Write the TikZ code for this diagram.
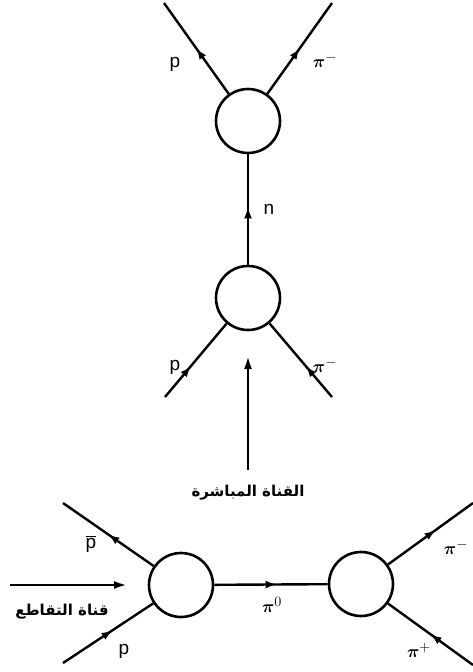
\documentclass[tikz,border=0pt]{standalone}
\usepackage{fontspec}
\setmainfont{Liberation Sans}
\newfontfamily\arabicfont[Script=Arabic]{DejaVu Sans}
\TeXXeTstate=1
\usetikzlibrary{arrows.meta,decorations.markings}
\newcommand{\pim}[1]{\ensuremath{\boldsymbol{\pi}^{#1}}}
\usepackage{amsmath}
\begin{document}
\begin{tikzpicture}[x=1pt,y=-1pt,
  blob/.style={circle,draw,line width=2.6pt,minimum size=64pt,inner sep=0pt},
  leg/.style={line width=2.4pt},
  midarrow/.style={leg,postaction={decorate},decoration={markings,
     mark=at position #1 with {\arrow{Latex[length=11pt,width=8pt]}}}},
  lbl/.style={font=\fontsize{19}{22}\selectfont,inner sep=0pt},
  arlbl/.style={font=\arabicfont\bfseries\fontsize{15}{18}\selectfont,inner sep=0pt},
  bigarrow/.style={line width=2.4pt,-{Latex[length=13pt,width=8pt]}}]
\useasboundingbox (0,0) rectangle (473,672);
% nodes
\node[blob] (c1) at (248,121) {};
\node[blob] (c2) at (248,298) {};
\node[blob] (c3) at (181,585) {};
\node[blob] (c4) at (361,584) {};
% free ends
\coordinate (t1) at (164,3);
\coordinate (t2) at (332,3);
\coordinate (m1) at (165,397);
\coordinate (m2) at (332,397);
\coordinate (b1) at (63,503);
\coordinate (b2) at (63,663);
\coordinate (r1) at (473,503);
\coordinate (r2) at (473,665);
\coordinate (va) at (248,470);
\coordinate (vb) at (248,356);
\coordinate (ha) at (10,585);
\coordinate (hb) at (127,585);
% legs
\draw[midarrow=0.5] (c1) -- (t1);
\draw[midarrow=0.5] (c1) -- (t2);
\draw[midarrow=0.52] (c2) -- (c1);
\draw[midarrow=0.42] (m1) -- (c2);
\draw[midarrow=0.42] (m2) -- (c2);
\draw[midarrow=0.5] (c3) -- (b1);
\draw[midarrow=0.55] (b2) -- (c3);
\draw[midarrow=0.55] (c3) -- (c4);
\draw[midarrow=0.56] (c4) -- (r1);
\draw[midarrow=0.5] (r2) -- (c4);
% channel arrows
\draw[bigarrow] (va) -- (vb);
\draw[bigarrow] (ha) -- (hb);
% labels
\node[lbl] (l1) at (175,64) {p};
\node[lbl] (l2) at (325,60) {\pim{-}};
\node[lbl] (l3) at (269,209) {n};
\node[lbl] (l4) at (175,367) {p};
\node[lbl] (l5) at (325,365) {\pim{-}};
\node[lbl] (l6) at (91,544) {$\overline{\mbox{p}}$};
\node[lbl] (l7) at (124,651) {p};
\node[lbl] (l8) at (272,605) {\pim{0}};
\node[lbl] (l9) at (456,547) {\pim{-}};
\node[lbl] (l10) at (419,650) {\pim{+}};
\node[arlbl] (a1) at (248,493) {\beginR القناة المباشرة\endR};
\node[arlbl] (a2) at (62,612) {\beginR قناة التقاطع\endR};
\end{tikzpicture}
\end{document}
